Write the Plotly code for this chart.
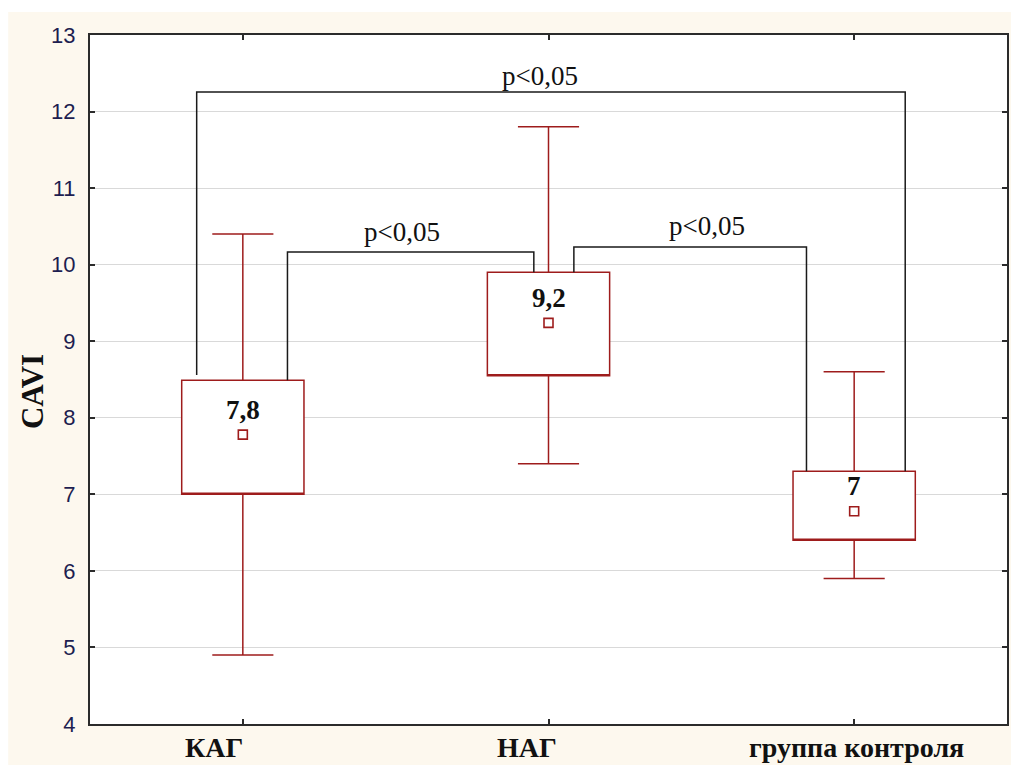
import plotly.graph_objects as go

# ---- data ----
categories = ["КАГ", "НАГ", "группа контроля"]
q1 = [7.0, 8.55, 6.4]
q3 = [8.49, 9.9, 7.3]
lower_whisker = [4.9, 7.4, 5.9]
upper_whisker = [10.4, 11.8, 8.6]
means = [7.78, 9.24, 6.78]
mean_labels = ["7,8", "9,2", "7"]
p_label = "p<0,05"

RED = "#9e1c1c"
BEIGE = "#fdf8ee"
SERIF = "Liberation Serif, Times New Roman, serif"
SANS = "Liberation Sans, Arial, sans-serif"

fig = go.Figure()

for i, cat in enumerate(categories):
    fig.add_trace(go.Box(
        x=[i], q1=[q1[i]], median=[q1[i]], q3=[q3[i]],
        lowerfence=[lower_whisker[i]], upperfence=[upper_whisker[i]],
        width=0.4, whiskerwidth=0.5, boxpoints=False,
        fillcolor="white", line=dict(color=RED, width=1.5),
        name=cat, showlegend=False, hoverinfo="skip",
    ))

fig.add_trace(go.Scatter(
    x=list(range(len(categories))), y=means, mode="markers",
    marker=dict(symbol="square-open", size=9, color=RED, line=dict(width=1.6, color=RED)),
    showlegend=False, hoverinfo="skip",
))

# mean value labels
for i, lab in enumerate(mean_labels):
    fig.add_annotation(x=i, y=means[i], yshift=25, text="<b>%s</b>" % lab,
                       showarrow=False, font=dict(family=SERIF, size=27, color="#111"))

# significance brackets: (x_left, y_left_end, x_right, y_right_end, y_top, label_x, label_y)
brackets = [
    (-0.151, 8.56, 2.167, 7.3, 12.255, 0.972, 12.47),
    (0.146, 8.49, 0.952, 9.9, 10.166, 0.522, 10.43),
    (1.083, 9.9, 1.844, 7.3, 10.23, 1.517, 10.50),
]
for xl, yl, xr, yr, yt, lx, ly in brackets:
    fig.add_trace(go.Scatter(
        x=[xl, xl, xr, xr], y=[yl, yt, yt, yr], mode="lines",
        line=dict(color="#1a1a1a", width=1.5), showlegend=False, hoverinfo="skip",
    ))
    fig.add_annotation(x=lx, y=ly, text=p_label, showarrow=False,
                       font=dict(family=SERIF, size=27, color="#111"))

# category labels (as in the reference, slightly offset from the ticks)
label_shift = [-29, -22, 2]
for i, cat in enumerate(categories):
    fig.add_annotation(x=i, xshift=label_shift[i], y=0, yref="paper",
                       xanchor="center", yanchor="middle", yshift=-23,
                       text="<b>%s</b>" % cat, showarrow=False,
                       font=dict(family=SERIF, size=28, color="#111"))

# y-axis title
fig.add_annotation(x=-0.062, y=0.482, xref="paper", yref="paper", text="<b>CAVI</b>",
                   xanchor="center", yanchor="middle",
                   textangle=-90, showarrow=False,
                   font=dict(family=SERIF, size=31, color="#111"))

# white strips around the beige background
fig.add_shape(type="rect", xref="paper", yref="paper", x0=-0.2, x1=1.2,
              y0=1.0334, y1=1.2, fillcolor="white", line_width=0, layer="below")
fig.add_shape(type="rect", xref="paper", yref="paper", x0=-0.2, x1=-0.0892,
              y0=-0.2, y1=1.2, fillcolor="white", line_width=0, layer="below")

fig.update_layout(
    width=1011, height=765,
    margin=dict(l=90, r=2, t=35, b=41),
    paper_bgcolor=BEIGE, plot_bgcolor="white",
    showlegend=False,
)
fig.update_xaxes(
    range=[-0.5, 2.5], tickvals=[0, 1, 2], showticklabels=False,
    showgrid=False, zeroline=False,
    showline=True, linecolor="#2b2b2b", linewidth=2, mirror="ticks",
    ticks="inside", ticklen=5, tickcolor="#2b2b2b", tickwidth=1.5,
)
fig.update_yaxes(
    range=[4, 13], dtick=1, tick0=4,
    showgrid=True, gridcolor="#d9d9d9", gridwidth=1, zeroline=False,
    showline=True, linecolor="#2b2b2b", linewidth=2, mirror="ticks",
    ticks="inside", ticklen=5, tickcolor="#2b2b2b", tickwidth=1.5,
    ticklabelstandoff=8,
    tickfont=dict(family=SANS, size=22, color="#1e1e50"),
)

fig.write_html("out.html")
